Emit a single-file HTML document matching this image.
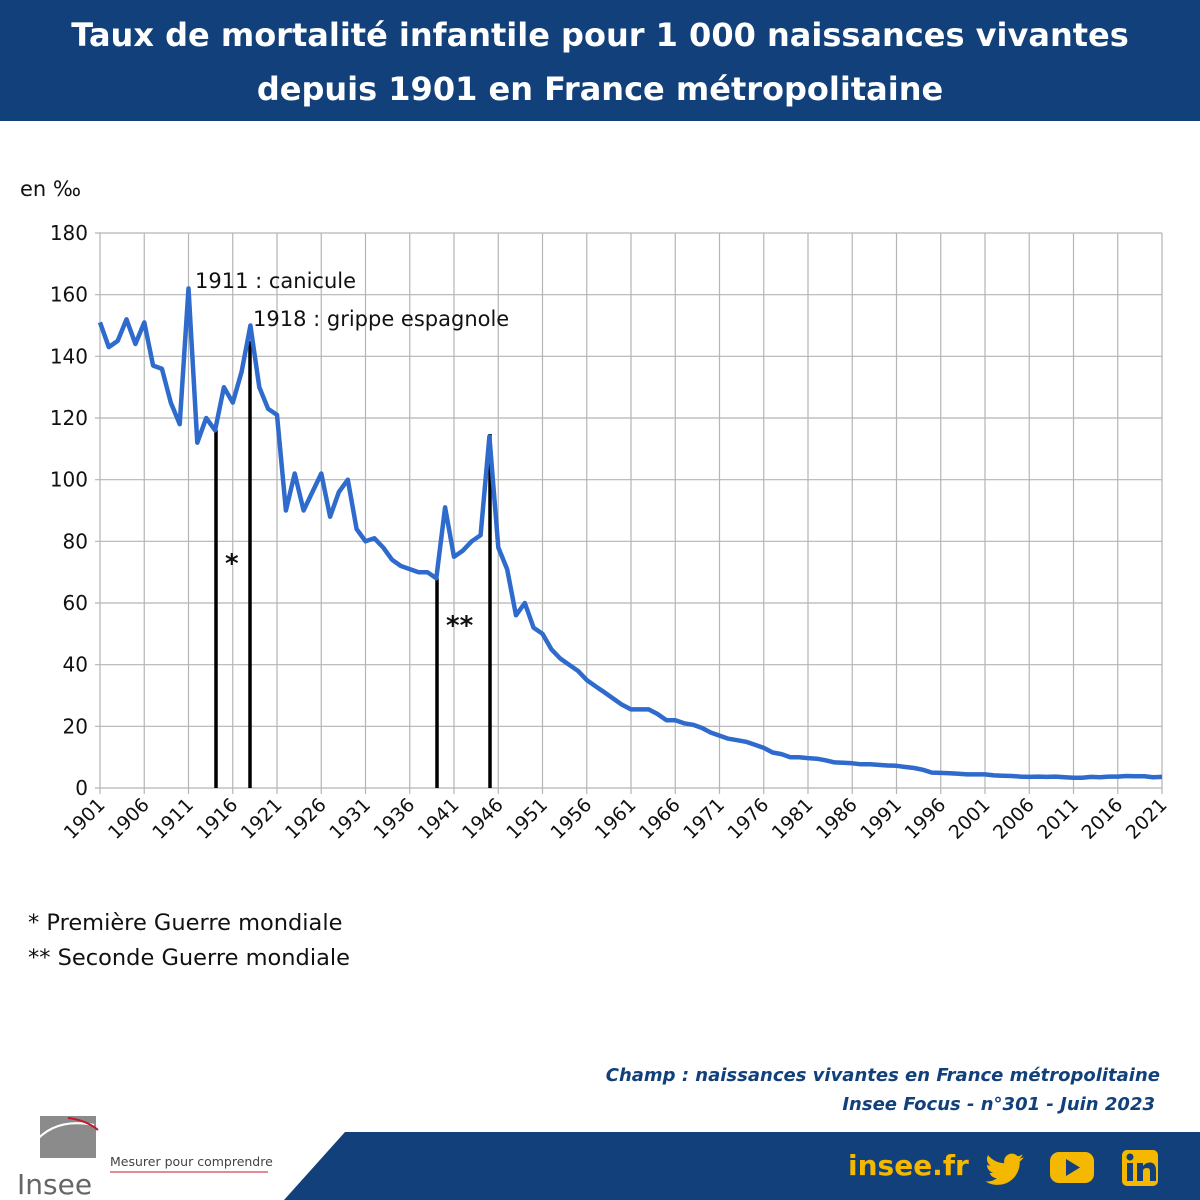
<!DOCTYPE html>
<html><head><meta charset="utf-8"><style>
body{margin:0;width:1200px;height:1200px;background:#fff;font-family:"DejaVu Sans","Liberation Sans",sans-serif;overflow:hidden;position:relative}
.hdr{position:absolute;left:0;top:0;width:1200px;height:121px;background:#12407a;color:#fff;text-align:center;font-weight:bold;font-size:32px;line-height:54px;padding-top:8px;box-sizing:border-box;white-space:nowrap}
</style></head><body>
<div class="hdr">Taux de mortalité infantile pour 1 000 naissances vivantes<br>depuis 1901 en France métropolitaine</div>
<svg id="c" width="1200" height="1200" style="position:absolute;left:0;top:0" xmlns="http://www.w3.org/2000/svg" font-family="DejaVu Sans, Liberation Sans, sans-serif">
<text x="20" y="196" font-size="21" fill="#111">en ‰</text>
<g id="grid" stroke="#b5b5b5" stroke-width="1.2"></g>
<g id="ylab" font-size="20" fill="#111" text-anchor="end"></g>
<g id="xlab" font-size="19" fill="#111" text-anchor="end"></g>
<g stroke="#000" stroke-width="3.5">
<line x1="216" y1="788" x2="216" y2="430"/>
<line x1="250" y1="788" x2="250" y2="341"/>
<line x1="437" y1="788" x2="437" y2="578"/>
<line x1="490" y1="788" x2="490" y2="434"/>
</g>
<polyline id="ln" fill="none" stroke="#2f6bcc" stroke-width="4.5" stroke-linejoin="round"/>
<text x="195" y="288" font-size="21" fill="#111">1911 : canicule</text>
<text x="253" y="326" font-size="21" fill="#111">1918 : grippe espagnole</text>
<text x="225" y="572" font-size="26" font-weight="bold" fill="#111">*</text>
<text x="446" y="634" font-size="26" font-weight="bold" fill="#111">**</text>
<text x="28" y="930" font-size="22.5" fill="#111">* Première Guerre mondiale</text>
<text x="28" y="965" font-size="22.5" fill="#111">** Seconde Guerre mondiale</text>
<text x="1160" y="1081" font-size="18" font-weight="bold" font-style="italic" fill="#12407a" text-anchor="end">Champ : naissances vivantes en France métropolitaine</text>
<text x="1155" y="1110" font-size="18" font-weight="bold" font-style="italic" fill="#12407a" text-anchor="end">Insee Focus - n°301 - Juin 2023</text>
<polygon points="345,1132 1200,1132 1200,1200 284,1200" fill="#12407a"/>
<text x="848" y="1175" font-size="28" font-weight="bold" fill="#f5b800">insee.fr</text>
<path transform="translate(986,1150) scale(1.6)" fill="#f5b800" d="M23.6 4.6c-.9.4-1.8.6-2.8.8 1-.6 1.8-1.600 2.1-2.7-.9.6-2 1-3.1 1.2-.9-1-2.2-1.6-3.6-1.6-2.7 0-4.9 2.200-4.9 4.9 0 .4 0 .8.1 1.1C7.3 8.1 3.7 6.2 1.3 3.2c-.4.7-.7 1.6-.7 2.5 0 1.7.9 3.2 2.2 4.1-.8 0-1.6-.2-2.200-.6v.1c0 2.4 1.7 4.4 3.9 4.8-.4.1-.8.2-1.3.2-.3 0-.6 0-.9-.1.6 2 2.4 3.4 4.600 3.4-1.7 1.3-3.8 2.1-6.1 2.1-.4 0-.8 0-1.2-.1 2.2 1.4 4.8 2.2 7.5 2.2 9.1 0 14-7.5 14-14v-.6c1-.7 1.8-1.6 2.5-2.5z"/>
<rect x="1050" y="1152" width="44" height="31" rx="9" fill="#f5b800"/>
<polygon points="1066,1159 1066,1176 1080,1167.5" fill="#12407a"/>
<rect x="1122" y="1150" width="36" height="36" rx="5" fill="#f5b800"/>
<rect x="1127" y="1163" width="6" height="18" fill="#12407a"/><circle cx="1130" cy="1157" r="3.5" fill="#12407a"/>
<path d="M1137 1163h6v3q3-4 8-3.5q5 1 5 8v10.5h-6v-10q0-3-3-3q-4 0-4 3v10h-6z" fill="#12407a"/>
<rect x="40" y="1116" width="56" height="42" fill="#8b8b8b"/>
<path d="M24 1160 q20 -45 70 -35" stroke="#fff" stroke-width="2" fill="none"/>
<path d="M68 1118 q18 2 30 12" stroke="#c0172c" stroke-width="2" fill="none"/>
<text x="17" y="1194" font-size="28" fill="#666">Insee</text>
<text x="110" y="1166" font-size="12.5" fill="#444">Mesurer pour comprendre</text>
<line x1="110" y1="1172" x2="268" y2="1172" stroke="#c0172c" stroke-width="1"/>
</svg>
<script>
var ns="http://www.w3.org/2000/svg";
var X0=100,X1=1162,Y0=788,Y180=233;
function X(yr){return X0+(yr-1901)*(X1-X0)/120}
function Y(v){return Y0-v*(Y0-Y180)/180}
var g=document.getElementById('grid'),yl=document.getElementById('ylab'),xl=document.getElementById('xlab');
function el(p,t,a,txt){var e=document.createElementNS(ns,t);for(var k in a)e.setAttribute(k,a[k]);if(txt)e.textContent=txt;p.appendChild(e);return e}
for(var v=0;v<=180;v+=20){el(g,'line',{x1:X0-5,x2:X1,y1:Y(v),y2:Y(v)});el(yl,'text',{x:88,y:Y(v)+7},String(v));}
for(var yr=1901;yr<=2021;yr+=5){var x=X(yr);el(g,'line',{x1:x,x2:x,y1:Y180,y2:Y0+6});
el(xl,'text',{x:x+6,y:Y0+18,transform:'rotate(-45 '+(x+6)+' '+(Y0+18)+')'},String(yr));}
var d=[151,143,145,152,144,151,137,136,125,118,162,112,120,116,130,125,135,150,130,123,121,90,102,90,96,102,88,96,100,84,80,81,78,74,72,71,70,70,68,91,75,77,80,82,114,78,71,56,60,52,50,45,42,40,38,35,33,31,29,27,25.5,25.5,25.5,24,22,22,21,20.5,19.5,18,17,16,15.5,15,14,13,11.5,11,10,10,9.7,9.5,9,8.3,8.2,8,7.7,7.7,7.5,7.3,7.2,6.8,6.5,5.9,5,4.9,4.8,4.6,4.4,4.4,4.4,4.1,4,3.9,3.7,3.6,3.7,3.6,3.7,3.5,3.3,3.3,3.6,3.5,3.7,3.7,3.9,3.8,3.8,3.5,3.6];
document.getElementById('ln').setAttribute('points',d.map(function(v,i){return X(1901+i).toFixed(1)+','+Y(v).toFixed(1)}).join(' '));
</script>
</body></html>
